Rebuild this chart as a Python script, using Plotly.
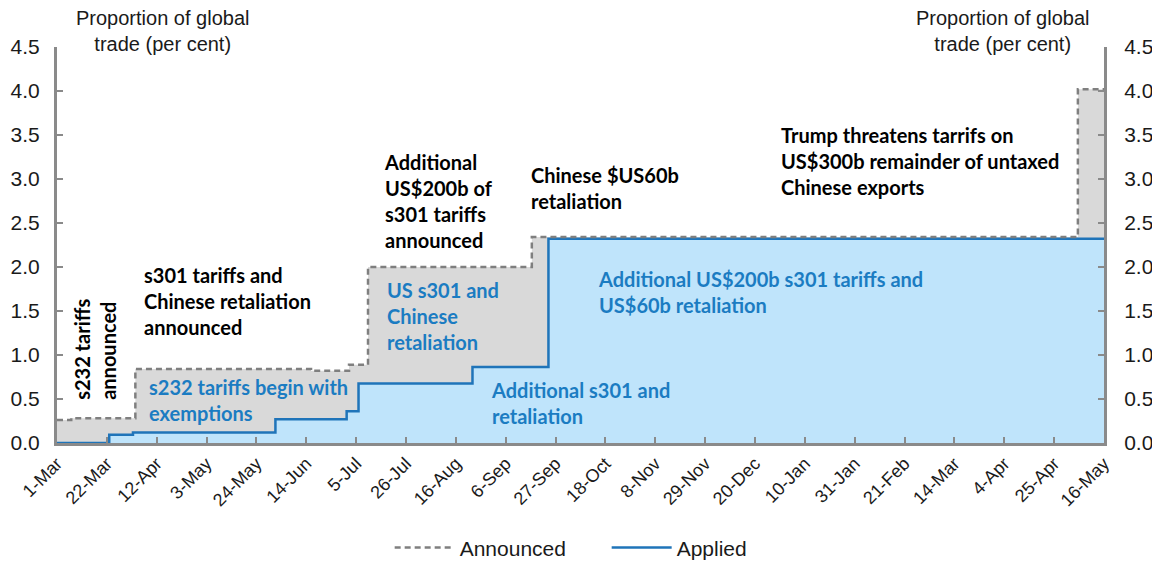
import plotly.graph_objects as go
import pandas as pd

# ---- data ----
announced_dates = ["2018-03-01", "2018-03-07", "2018-04-03", "2018-06-16", "2018-07-02",
                   "2018-07-10", "2018-09-17", "2019-05-05", "2019-05-16"]
announced_vals = [0.26, 0.28, 0.84, 0.82, 0.89, 2.00, 2.34, 4.02, 4.02]

applied_dates = ["2018-03-01", "2018-03-23", "2018-04-02", "2018-06-01", "2018-07-01",
                 "2018-07-06", "2018-08-23", "2018-09-24", "2019-05-16"]
applied_vals = [0.0, 0.095, 0.12, 0.27, 0.36, 0.675, 0.865, 2.32, 2.32]

tick_labels = ["1-Mar", "22-Mar", "12-Apr", "3-May", "24-May", "14-Jun", "5-Jul", "26-Jul",
               "16-Aug", "6-Sep", "27-Sep", "18-Oct", "8-Nov", "29-Nov", "20-Dec", "10-Jan",
               "31-Jan", "21-Feb", "14-Mar", "4-Apr", "25-Apr", "16-May"]
tick_dates = pd.date_range("2018-03-01", periods=len(tick_labels), freq="21D")

y_ticks = [0.0, 0.5, 1.0, 1.5, 2.0, 2.5, 3.0, 3.5, 4.0, 4.5]

# (text, date, value, colour, angle)
notes = [
    ("s232 tariffs<br>announced", "2018-03-17", 1.07, "black", -90),
    ("s301 tariffs and<br>Chinese retaliation<br>announced", "2018-04-06", 1.61, "black", 0),
    ("s232 tariffs begin with<br>exemptions", "2018-04-08", 0.49, "blue", 0),
    ("Additional<br>US$200b of<br>s301 tariffs<br>announced", "2018-07-16", 2.75, "black", 0),
    ("US s301 and<br>Chinese<br>retaliation", "2018-07-17", 1.44, "blue", 0),
    ("Chinese $US60b<br>retaliation", "2018-09-16", 2.90, "black", 0),
    ("Additional s301 and<br>retaliation", "2018-08-30", 0.45, "blue", 0),
    ("Additional US$200b s301 tariffs and<br>US$60b retaliation", "2018-10-14", 1.72, "blue", 0),
    ("Trump threatens tarrifs on<br>US$300b remainder of untaxed<br>Chinese exports", "2018-12-30", 3.20, "black", 0),
]

GRAY_FILL = "#d9d9d9"
GRAY_LINE = "#7f7f7f"
BLUE_FILL = "#bfe4fb"
BLUE_LINE = "#1f74b9"
BLUE_TEXT = "#1b7cc2"
AXIS = "#8a8a8a"

fig = go.Figure()

# announced area (fill only)
fig.add_trace(go.Scatter(x=announced_dates, y=announced_vals, mode="lines", line_shape="hv",
                         fill="tozeroy", fillcolor=GRAY_FILL, line=dict(width=0),
                         showlegend=False, hoverinfo="skip"))
# applied area (fill only)
fig.add_trace(go.Scatter(x=applied_dates, y=applied_vals, mode="lines", line_shape="hv",
                         fill="tozeroy", fillcolor=BLUE_FILL, line=dict(width=0),
                         showlegend=False, hoverinfo="skip"))
# applied line
fig.add_trace(go.Scatter(x=applied_dates, y=applied_vals, mode="lines", line_shape="hv",
                         line=dict(color=BLUE_LINE, width=2.5), name="Applied"))
# announced dashed line
fig.add_trace(go.Scatter(x=announced_dates, y=announced_vals, mode="lines", line_shape="hv",
                         line=dict(color=GRAY_LINE, width=2.5, dash="6px,4px"), name="Announced"))
# invisible trace on the right axis
fig.add_trace(go.Scatter(x=announced_dates[:1], y=announced_vals[:1], yaxis="y2", mode="markers",
                         marker=dict(opacity=0), showlegend=False, hoverinfo="skip"))

tick_font = dict(family="Liberation Sans, Arial, sans-serif", size=21, color="#1a1a1a")

yaxis_common = dict(range=[0, 4.5], tickvals=y_ticks, ticktext=[f"{v:.1f}" for v in y_ticks],
                    showgrid=False, zeroline=False, showline=True, linecolor=AXIS, linewidth=3,
                    ticks="inside", ticklen=6, tickwidth=2, tickcolor=AXIS, tickfont=tick_font,
                    fixedrange=True, automargin=False)

# page body has an 8px margin, so the figure is sized to fit inside the window
fig.update_layout(
    width=1152, height=554,
    margin=dict(l=49, r=56, t=39, b=119, autoexpand=False),
    plot_bgcolor="white", paper_bgcolor="white",
    xaxis=dict(type="date", range=["2018-03-01", "2019-05-16"], tickvals=list(tick_dates),
               ticktext=tick_labels, tickangle=-45, showgrid=False, zeroline=False,
               showline=True, linecolor=AXIS, linewidth=3, ticks="inside", ticklen=6,
               tickwidth=2, tickcolor=AXIS, automargin=False,
               tickfont=dict(family="Liberation Sans, Arial, sans-serif", size=18, color="#1a1a1a")),
    yaxis=dict(**yaxis_common, side="left", ticklabelstandoff=10),
    yaxis2=dict(**yaxis_common, side="right", overlaying="y", ticklabelstandoff=13),
    legend=dict(orientation="h", x=0.525, xanchor="center", y=-0.265, yanchor="middle",
                traceorder="reversed", itemwidth=60, entrywidth=142, entrywidthmode="pixels",
                font=dict(family="Liberation Sans, Arial, sans-serif", size=21, color="#1a1a1a")),
    showlegend=True,
)

# axis titles
for xp in [0.101, 0.9035]:
    fig.add_annotation(text="Proportion of global<br>trade (per cent)", xref="paper", yref="paper",
                       x=xp, y=1.04, xanchor="center", yanchor="middle", showarrow=False,
                       font=dict(family="Liberation Sans, Arial, sans-serif", size=20, color="#1a1a1a"),
                       align="center")

for text, d, v, col, ang in notes:
    fig.add_annotation(text=f"<b>{text}</b>", x=d, y=v, xref="x", yref="y", showarrow=False,
                       xanchor="center" if ang else "left", yanchor="middle", textangle=ang,
                       align="left",
                       font=dict(family="Lato, Carlito, sans-serif", size=20,
                                 color=BLUE_TEXT if col == "blue" else "black"))

fig.write_html("out.html")
